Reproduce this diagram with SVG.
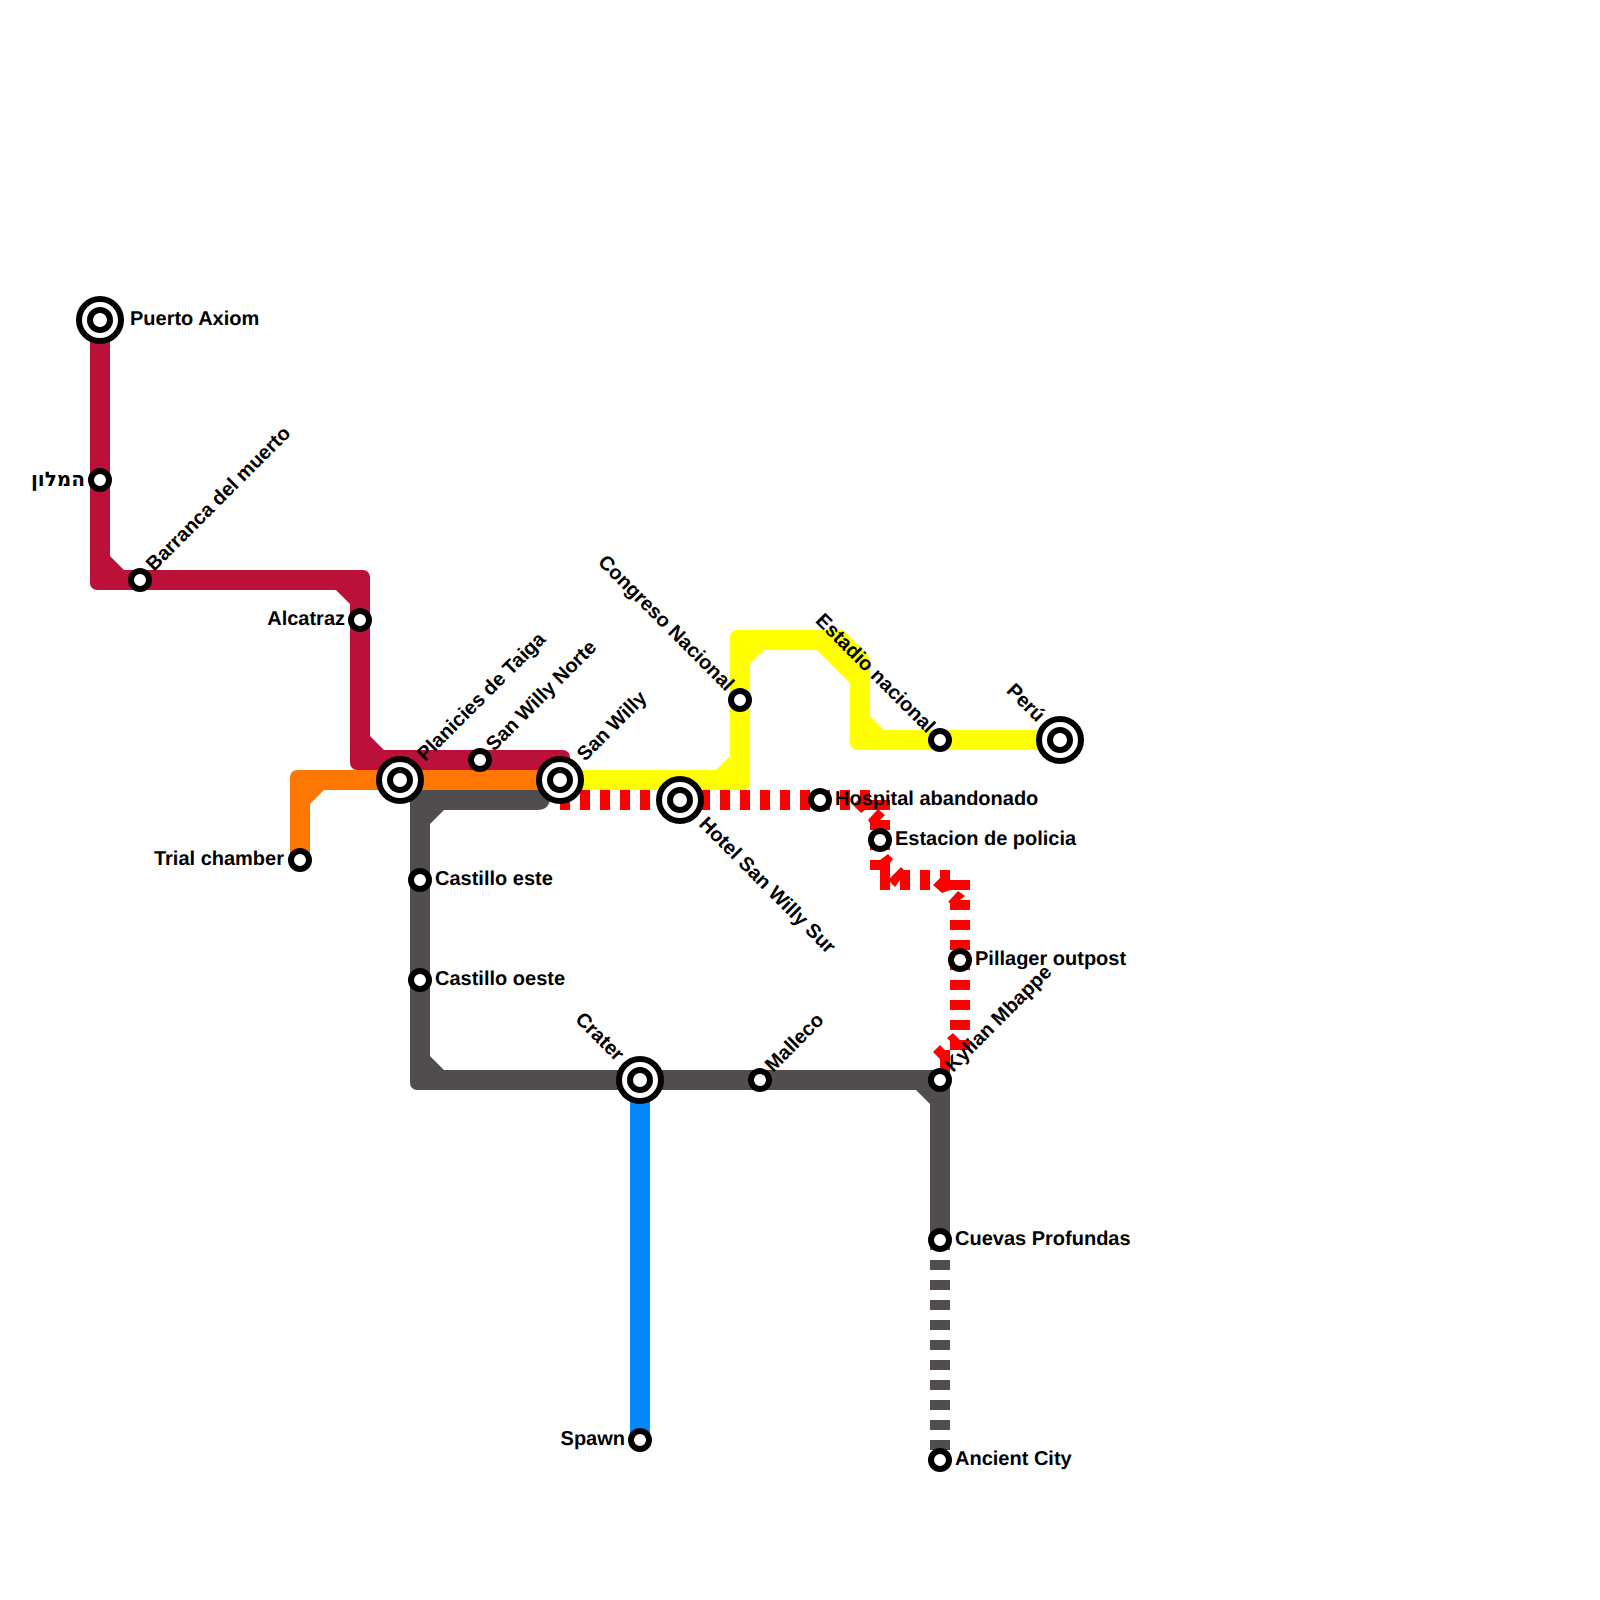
<svg xmlns="http://www.w3.org/2000/svg" width="1600" height="1600" viewBox="0 0 1600 1600">
<style>
text{font-family:"Liberation Sans","Noto Sans",sans-serif;font-size:20px;font-weight:bold;fill:#000;text-rendering:geometricPrecision}
.e{text-anchor:end}
.h{font-family:"DejaVu Sans",sans-serif}
.d{fill:#f00;stroke:none}
.ring{fill:#fff;stroke:#000;stroke-width:6}
</style>
<defs>
<g id="s"><circle class="ring" r="9"/></g>
<g id="t"><circle class="ring" r="21"/><circle class="ring" r="10"/></g>
</defs>
<rect width="1600" height="1600" fill="#fff"/>
<g id="connectors">
<path id="line-grey" fill="#514d4e" d="M417,790H550V797Q550,810 537,810H444L430,824V1056L444,1070H950V1240H930V1104L916,1090H417A7,7 0 0 1 410,1083V797A7,7 0 0 1 417,790Z"/>
<path id="line-crimson" fill="#ba1039" d="M90,320H110V556L124,570H363A7,7 0 0 1 370,577V736L384,750H563A7,7 0 0 1 570,757V780H550V770H357A7,7 0 0 1 350,763V604L336,590H97A7,7 0 0 1 90,583Z"/>
<path id="line-orange" fill="#ff7700" d="M290,860V777A7,7 0 0 1 297,770H560V790H324L310,804V860Z"/>
<path id="line-yellow" fill="#ffff00" d="M560,770H716L730,756V637A7,7 0 0 1 737,630H843L865,652Q870,657 870,664V716L884,730H1060V750H857A7,7 0 0 1 850,743V683L817,650H764L750,664V783A7,7 0 0 1 743,790H560Z"/>
<path id="line-blue" fill="none" stroke="#0088ff" stroke-width="20" d="M640,1080V1440"/>
<path id="line-grey-dashed" fill="none" stroke="#514d4e" stroke-width="20" stroke-dasharray="10 10" d="M940,1240V1460"/>
<g id="line-red-dashed">
<path fill="none" stroke="#f00" stroke-width="20" stroke-dasharray="10 10" d="M560,800H860"/>
<path class="d" d="M860,790H870V800H890V810H865L861,813L853,805L860,798Z"/>
<path class="d" d="M868,820L878,809L885,815L880,820H890V830H870V823Z"/>
<path class="d" d="M870,840H890V850H870Z"/>
<path class="d" d="M870,860H880L888,854L893,859L890,863V890H880V870H870Z"/>
<path class="d" d="M890,878L901,867L904,870H910V890H900V880L895,887L890,882Z"/>
<path class="d" d="M920,870H930V890H920Z"/>
<path class="d" d="M933,885L940,878V870H950V880H970V890H950L942,893Z"/>
<path class="d" d="M948,902L958,891L965,896L960,900H970V910H950V903Z"/>
<path fill="none" stroke="#f00" stroke-width="20" stroke-dasharray="10 10" d="M960,920V1030"/>
<path class="d" d="M947,1038L953,1033L960,1040H970V1050H950V1041Z"/>
<path class="d" d="M933,1052L940,1045L945,1050H950V1070H940V1059Z"/>
</g>
</g>
<g id="n-puerto-axiom"><use href="#t" x="100" y="320"/><text x="130" y="325">Puerto Axiom</text></g>
<g id="n-hamalon"><use href="#s" x="100" y="480"/><text class="e h" x="85" y="486">המלון</text></g>
<g id="n-barranca"><use href="#s" x="140" y="580"/><text transform="translate(154,572) rotate(-45)">Barranca del muerto</text></g>
<g id="n-alcatraz"><use href="#s" x="360" y="620"/><text class="e" x="345" y="625">Alcatraz</text></g>
<g id="n-planicies"><use href="#t" x="400" y="780"/><text transform="translate(425,762) rotate(-45)">Planicies de Taiga</text></g>
<g id="n-san-willy-norte"><use href="#s" x="480" y="760"/><text transform="translate(494,752) rotate(-45)">San Willy Norte</text></g>
<g id="n-san-willy"><use href="#t" x="560" y="780"/><text transform="translate(585,762) rotate(-45)">San Willy</text></g>
<g id="n-hotel"><use href="#t" x="680" y="800"/><text transform="translate(698,825) rotate(45)">Hotel San Willy Sur</text></g>
<g id="n-congreso"><use href="#s" x="740" y="700"/><text class="e" transform="translate(726,692) rotate(45)">Congreso Nacional</text></g>
<g id="n-hospital"><use href="#s" x="820" y="800"/><text x="835" y="805">Hospital abandonado</text></g>
<g id="n-estadio"><use href="#s" x="940" y="740"/><text class="e" transform="translate(927,734) rotate(45)">Estadio nacional</text></g>
<g id="n-peru"><use href="#t" x="1060" y="740"/><text class="e" transform="translate(1037,723) rotate(45)">Perú</text></g>
<g id="n-estacion"><use href="#s" x="880" y="840"/><text x="895" y="845">Estacion de policia</text></g>
<g id="n-pillager"><use href="#s" x="960" y="960"/><text x="975" y="965">Pillager outpost</text></g>
<g id="n-trial"><use href="#s" x="300" y="860"/><text class="e" x="284" y="865">Trial chamber</text></g>
<g id="n-castillo-este"><use href="#s" x="420" y="880"/><text x="435" y="885">Castillo este</text></g>
<g id="n-castillo-oeste"><use href="#s" x="420" y="980"/><text x="435" y="985">Castillo oeste</text></g>
<g id="n-crater"><use href="#t" x="640" y="1080"/><text class="e" transform="translate(616,1062) rotate(45)">Crater</text></g>
<g id="n-malleco"><use href="#s" x="760" y="1080"/><text transform="translate(773,1073) rotate(-45)">Malleco</text></g>
<g id="n-kylian"><use href="#s" x="940" y="1080"/><text transform="translate(953,1073) rotate(-45)">Kylian Mbappe</text></g>
<g id="n-cuevas"><use href="#s" x="940" y="1240"/><text x="955" y="1245">Cuevas Profundas</text></g>
<g id="n-ancient"><use href="#s" x="940" y="1460"/><text x="955" y="1465">Ancient City</text></g>
<g id="n-spawn"><use href="#s" x="640" y="1440"/><text class="e" x="625" y="1445">Spawn</text></g>
</svg>
